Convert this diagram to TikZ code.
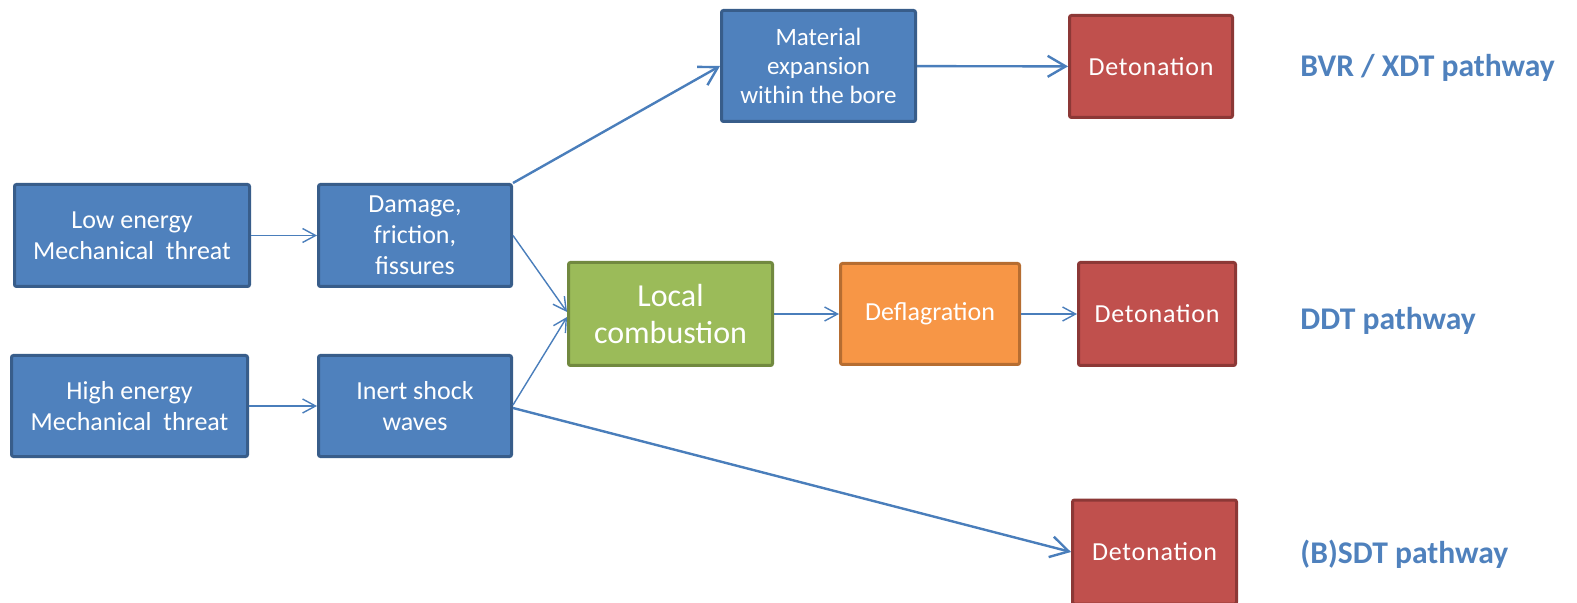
\documentclass[tikz,border=0pt]{standalone}
\usepackage{fontspec}
\setmainfont{Carlito}
\usepackage{tikz}
\usetikzlibrary{arrows.meta}
\definecolor{BlueFill}{HTML}{4F81BD}
\definecolor{BlueLine}{HTML}{385D8A}
\definecolor{RedFill}{HTML}{C0504D}
\definecolor{RedLine}{HTML}{8C3836}
\definecolor{GreenFill}{HTML}{9BBB59}
\definecolor{GreenLine}{HTML}{71893F}
\definecolor{OrangeFill}{HTML}{F79646}
\definecolor{OrangeLine}{HTML}{B66D31}
\definecolor{ArrowBlue}{HTML}{4A7EBB}

\begin{document}
\begin{tikzpicture}[x=0.5pt,y=-0.5pt,
    box/.style={draw=BlueLine,fill=BlueFill,line width=1.5pt,rounded corners=1pt,
      text=white,align=center,inner sep=0pt,font=\fontsize{13}{15.5}\selectfont},
    boxsize/.style 2 args={minimum width=#1*0.5pt,minimum height=#2*0.5pt},
    redbox/.style={box,draw=RedLine,fill=RedFill,
      font=\fontsize{13}{15.5}\selectfont\addfontfeature{LetterSpace=3}},
    thinarrow/.style={draw=ArrowBlue,line width=0.7pt,
      -{Straight Barb[length=6.5pt,width=7pt]}},
    thickarrow/.style={draw=ArrowBlue,line width=1.2pt,
      -{Straight Barb[length=9pt,width=10.5pt]}},
    pathlabel/.style={anchor=base west,inner sep=0pt,text=BlueFill,
      font=\fontsize{15.8}{18}\selectfont\bfseries}]
  \useasboundingbox (0,0) rectangle (1577,603);

  % inputs
  \node[box,boxsize={235}{102}] (low) at (132,235.5) {Low energy\\Mechanical\ \ threat};
  \node[box,boxsize={236}{101}] (high) at (129.5,406) {High energy\\Mechanical\ \ threat};
  \node[box,boxsize={193}{102}] (damage) at (415,235.5) {Damage,\\friction,\\fissures};
  \node[box,boxsize={193}{101}] (inert) at (415,406) {Inert shock\\waves};

  % middle
  \node[box,boxsize={194}{111},font=\fontsize{12.5}{14.5}\selectfont] (material) at (818.5,66)
    {Material\\expansion\\within the bore};
  \node[box,boxsize={204}{103},draw=GreenLine,fill=GreenFill,
    font=\fontsize{16}{18.5}\selectfont] (local) at (670.5,314) {Local\\combustion};
  \node[box,boxsize={179}{101},draw=OrangeLine,fill=OrangeFill] (defl) at (930,314) {Deflagration};

  % outcomes
  \node[redbox,boxsize={163}{102}] (det1) at (1151,66.5) {Detonation};
  \node[redbox,boxsize={157}{103}] (det2) at (1157,314) {Detonation};
  \node[redbox,boxsize={164}{104}] (det3) at (1154.5,552) {Detonation};

  \node[pathlabel] (bvr) at (1300,77) {BVR / XDT pathway};
  \node[pathlabel] (ddt) at (1300,330) {DDT pathway};
  \node[pathlabel] (sdt) at (1300,563) {(B)SDT pathway};

  % connectors
  \draw[thinarrow] (low) -- (damage);
  \draw[thinarrow] (high) -- (inert);
  \draw[thickarrow] (damage.north east) -- (material.west);
  \draw[thinarrow] (damage.east) -- ([yshift=1pt]local.west);
  \draw[thinarrow] ([yshift=0.5pt]inert.east) -- ([yshift=-1.5pt]local.west);
  \draw[thickarrow] ([yshift=-1pt]inert.east) -- (det3.west);
  \draw[thickarrow] (material) -- (det1);
  \draw[thinarrow] (local) -- (defl);
  \draw[thinarrow] (defl) -- (det2);
\end{tikzpicture}
\end{document}
